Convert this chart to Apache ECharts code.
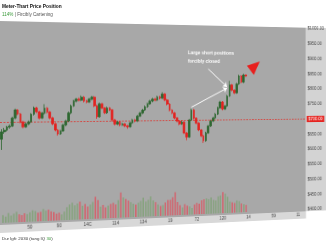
<!DOCTYPE html>
<html><head><meta charset="utf-8">
<script src="https://cdn.jsdelivr.net/npm/echarts@6/dist/echarts.min.js"></script>
<style>
html,body{margin:0;padding:0;width:326px;height:245px;overflow:hidden;background:#fff;}
#chart{position:absolute;left:0;top:0;width:380px;height:245px;transform-origin:0 88px;transform:perspective(600px) rotateY(11.1deg);}
#text{position:absolute;left:0;top:0;width:326px;height:245px;pointer-events:none;}
</style></head>
<body>
<div id="chart"></div>
<div id="text"></div>
<script>
// ---- data ----
const categoryCount = 124;
const tickLabels = ["50","90","14C","114","134","19","72","120","14","59","11"];
const opens  = [650,672,677,686,689,713,737,725,701,686, 695,701,724,743,731,712,727,742,730,712, 694,675,663,672,690,702,727,748,763,769, 766,775,763,760,769,775,748,714,754,741, 726,741,735,704,691,697,688,691,685,682, 694,703,700,715,725,734,744,753,762,768, 765,775,771,784,765,752,733,724,708,698, 689,695,660,647,701,733,707,691,669,650, 634,659,681,697,707,719,739,758,735,745, 777,813,796,787,816,842,822,845];
const closes = [672,677,686,689,713,737,725,701,686,695, 701,724,743,731,712,727,742,730,712,694, 675,663,672,690,702,727,748,763,769,766, 775,763,760,769,775,748,714,754,741,726, 741,735,704,691,697,688,691,685,682,694, 703,700,715,725,734,744,753,762,768,765, 775,771,784,765,752,733,724,708,698,689, 695,660,647,701,733,707,691,669,650,634, 659,681,697,707,719,739,758,735,745,777, 813,796,787,816,842,822,845,842];
const lows   = [618,666,673,681,686,709,721,697,682,683, 691,698,720,727,708,709,723,726,708,690, 671,658,660,669,686,699,723,745,759,762, 763,759,756,757,765,744,708,711,737,722, 723,731,700,687,688,684,685,681,676,679, 691,696,697,712,721,731,740,750,758,761, 762,767,768,761,748,729,720,704,694,685, 686,656,637,644,698,703,687,665,646,627, 631,656,678,694,704,716,736,731,732,742, 774,792,783,784,813,818,819,838];
const highs  = [680,684,690,694,717,741,740,728,704,699, 705,727,747,746,734,731,754,745,733,715, 697,678,676,694,706,731,752,767,773,774, 780,778,767,773,779,778,751,758,757,744, 745,744,738,707,701,700,695,694,688,698, 707,706,719,729,738,748,757,766,772,772, 779,778,790,787,768,755,736,727,711,701, 699,698,663,705,737,736,710,694,672,653, 663,685,701,711,723,743,762,761,749,781, 826,816,799,820,846,845,849,848];
const volumes = [9,7,11,8,10,12,9,8,10,9, 11,13,12,10,11,14,12,13,11,10, 8,9,7,10,15,18,20,17,19,21, 16,18,15,17,20,26,22,14,16,13, 15,17,18,16,21,30,24,22,20,18, 16,15,17,19,23,18,20,24,19,17, 14,12,13,16,19,19,22,28,16,12, 9,13,11,10,8,12,14,13,17,18, 19,18,20,17,16,21,22,26,24,20, 14,13,12,15,14,11,10,9];
const priceTicks = {min:400, max:1000, step:50};
const levelPrice = 700;
const arrowFrom1 = [81, 864], arrowTo1 = [89, 806];
const arrowFrom2 = [74, 742], arrowTo2 = [89, 803];
const signalPoint = [101, 875];
const annotation = "Large short positions\nforcibly closed";
const titleText = "Meter-Thart Price Position";
const subText = "{g|114%} | Fircibly Cartening";
const footText = "Dur lgfi: 2030 (tang IQ {g|30})";

// ---- build ----
const categories = [];
for (let i = 0; i < categoryCount; i++) {
  const k = i - 10;
  categories.push(k >= 0 && k % 11 === 0 && tickLabels[k / 11] ? tickLabels[k / 11] : '');
}
const candles = opens.map((o, i) => [o, closes[i], lows[i], highs[i]]);
const UP = '#2c662e', DOWN = '#e3221f';
const FONT = 'Liberation Sans';

const chart = echarts.init(document.getElementById('chart'), null, {renderer: 'canvas'});
chart.setOption({
  animation: false,
  textStyle: {fontFamily: FONT},
  graphic: [
    {type: 'rect', z: -5, silent: true, shape: {x: 0, y: 21, width: 346.5, height: 204}, style: {fill: '#a8a8a8'}},
    {type: 'rect', z: -5, silent: true, shape: {x: 346.5, y: 21, width: 34, height: 204}, style: {fill: '#d3d3d3'}},
    {type: 'rect', z: -5, silent: true, shape: {x: 0, y: 225, width: 346.5, height: 8}, style: {fill: '#d8d8d8'}},
    {type: 'text', z: 50, silent: true, x: 204, y: 45.5,
      style: {text: annotation, fill: '#ffffff', font: 'bold 5.3px "Liberation Sans"', lineHeight: 9.6, verticalAlign: 'top'}}
  ],
  grid: [
    {left: 0, right: 33.5, top: 22, bottom: 22},
    {left: 0, right: 33.5, top: 188, bottom: 22}
  ],
  xAxis: [
    {type: 'category', gridIndex: 0, data: categories, boundaryGap: true,
      axisLine: {show: false}, axisTick: {show: false}, axisLabel: {show: false}, splitLine: {show: false}},
    {type: 'category', gridIndex: 1, data: categories, boundaryGap: true,
      axisLine: {show: false}, axisTick: {show: false}, splitLine: {show: false},
      axisLabel: {show: true, interval: 0, margin: 3, fontSize: 4.8, color: '#444', fontFamily: FONT}}
  ],
  yAxis: [
    {type: 'value', gridIndex: 0, position: 'right', min: priceTicks.min, max: priceTicks.max, interval: priceTicks.step,
      axisLine: {show: false}, axisTick: {show: false}, splitLine: {show: false},
      axisLabel: {margin: 2, fontSize: 5, color: '#444', fontFamily: FONT, formatter: v => '$' + v.toFixed(2)}},
    {type: 'value', gridIndex: 1, min: 0, max: 40, show: false, splitLine: {show: false}}
  ],
  series: [
    {type: 'bar', xAxisIndex: 1, yAxisIndex: 1, data: volumes, barWidth: '58%', z: 1,
      itemStyle: {color: p => closes[p.dataIndex] >= opens[p.dataIndex] ? '#86a37e' : '#d2646e'}},
    {type: 'candlestick', xAxisIndex: 0, yAxisIndex: 0, data: candles, barWidth: '76%', z: 5,
      itemStyle: {color: UP, color0: DOWN, borderColor: UP, borderColor0: DOWN, borderWidth: 0.8},
      markLine: {
        silent: true, animation: false, symbol: ['none', 'none'],
        data: [
          {yAxis: levelPrice, symbol: 'none',
            lineStyle: {color: '#e0302a', type: [2, 1.5], width: 0.8},
            label: {show: true, position: 'end', distance: 1, formatter: '$' + levelPrice.toFixed(2),
              color: '#fff', backgroundColor: '#e52420', padding: [1, 2], fontSize: 5, fontFamily: FONT}},
          [{coord: arrowFrom1, symbol: 'none', lineStyle: {color: '#fff', width: 1, type: 'solid'}, label: {show: false}},
           {coord: arrowTo1, symbol: 'arrow', symbolSize: 5}],
          [{coord: arrowFrom2, symbol: 'none', lineStyle: {color: '#fff', width: 1, type: 'solid'}, label: {show: false}},
           {coord: arrowTo2, symbol: 'arrow', symbolSize: 5}]
        ]
      },
      markPoint: {
        silent: true, animation: false,
        data: [{coord: signalPoint, symbol: 'triangle', symbolSize: [13, 15], symbolRotate: -50,
          itemStyle: {color: '#e8201e'}, label: {show: false}}]
      }
    }
  ]
});

const textChart = echarts.init(document.getElementById('text'), null, {renderer: 'canvas'});
textChart.setOption({
  animation: false,
  title: {
    text: titleText, subtext: subText, left: 2, top: 4, padding: 0, itemGap: 2,
    textStyle: {fontSize: 4.8, fontWeight: 'bold', color: '#111', fontFamily: FONT, lineHeight: 5.5},
    subtextStyle: {fontSize: 4.6, color: '#555', fontFamily: FONT, lineHeight: 5.5,
      rich: {g: {fontSize: 4.6, color: '#3a9a3a', fontFamily: FONT}}}
  },
  graphic: [
    {type: 'text', x: 2, y: 239, silent: true,
      style: {text: footText, font: '4.4px "Liberation Sans"', fill: '#333', verticalAlign: 'middle',
        rich: {g: {fontSize: 4.4, fill: '#3a9a3a', fontFamily: FONT}}}}
  ]
});
</script>
</body></html>
